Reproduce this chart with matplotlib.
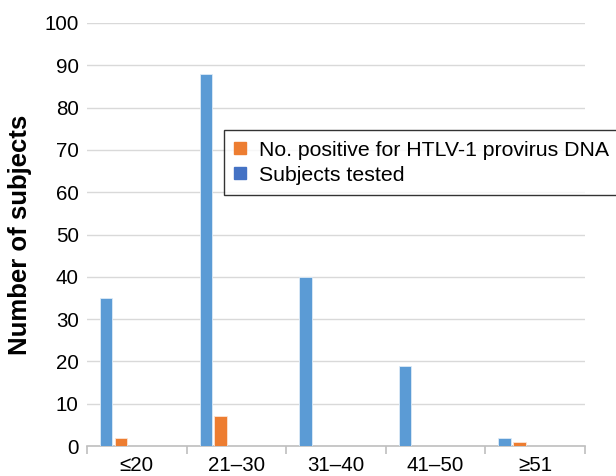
import matplotlib.pyplot as plt
from matplotlib.lines import Line2D
import numpy as np

plt.rcParams['font.family'] = ['Liberation Sans', 'DejaVu Sans']

age_groups = ['≤20', '21–30', '31–40', '41–50', '≥51']
subjects_tested = [35, 88, 40, 19, 2]
positive = [2, 7, 0, 0, 1]

blue = '#5B9BD5'
orange = '#ED7D31'

fig = plt.figure(figsize=(6.16, 4.76), dpi=100)
ax = fig.add_axes([0.1412, 0.063, 0.8085, 0.8887])

x = np.arange(len(age_groups))
w = 0.125
ax.bar(x - 0.5 + 0.13, subjects_tested, width=w, align='edge', color=blue,
       edgecolor='#DDEBF7', linewidth=0.6, zorder=3)
ax.bar(x - 0.5 + 0.28, positive, width=w, align='edge', color=orange,
       edgecolor='#FBE5D6', linewidth=0.6, zorder=3)

ax.set_xlim(-0.5, len(age_groups) - 0.5)
ax.set_ylim(0, 100)
ax.set_yticks(range(0, 101, 10))
ax.yaxis.grid(True, color='#D9D9D9', linewidth=1)
ax.set_axisbelow(True)

ax.set_xticks(x)
ax.set_xticklabels(age_groups)
ax.set_xticks(np.arange(-0.5, len(age_groups), 1), minor=True)
ax.tick_params(axis='x', which='major', length=0, pad=7, labelsize=14.8)
ax.tick_params(axis='x', which='minor', length=6, color='#BFBFBF', width=1.2)
ax.tick_params(axis='y', length=0, pad=6, labelsize=14.8)

for s in ['top', 'right', 'left']:
    ax.spines[s].set_visible(False)
ax.spines['bottom'].set_color('#BFBFBF')
ax.spines['bottom'].set_linewidth(1.2)

ax.set_ylabel('Number of subjects', fontsize=18.5, fontweight='bold', labelpad=9)

handles = [Line2D([], [], marker='s', linestyle='', markersize=8.5, color=orange,
                  label='No. positive for HTLV-1 provirus DNA'),
           Line2D([], [], marker='s', linestyle='', markersize=8.5, color='#4472C4',
                  label='Subjects tested')]
leg = fig.legend(handles=handles, loc='upper left', bbox_to_anchor=(0.3636, 0.7269),
                 bbox_transform=fig.transFigure, fontsize=15.3, frameon=True,
                 fancybox=False, edgecolor='black', borderaxespad=0,
                 handlelength=0.6, handleheight=1.0, handletextpad=0.6,
                 borderpad=0.45, labelspacing=0.2)
leg.get_frame().set_linewidth(1)

fig.savefig('out.png', dpi=100)
